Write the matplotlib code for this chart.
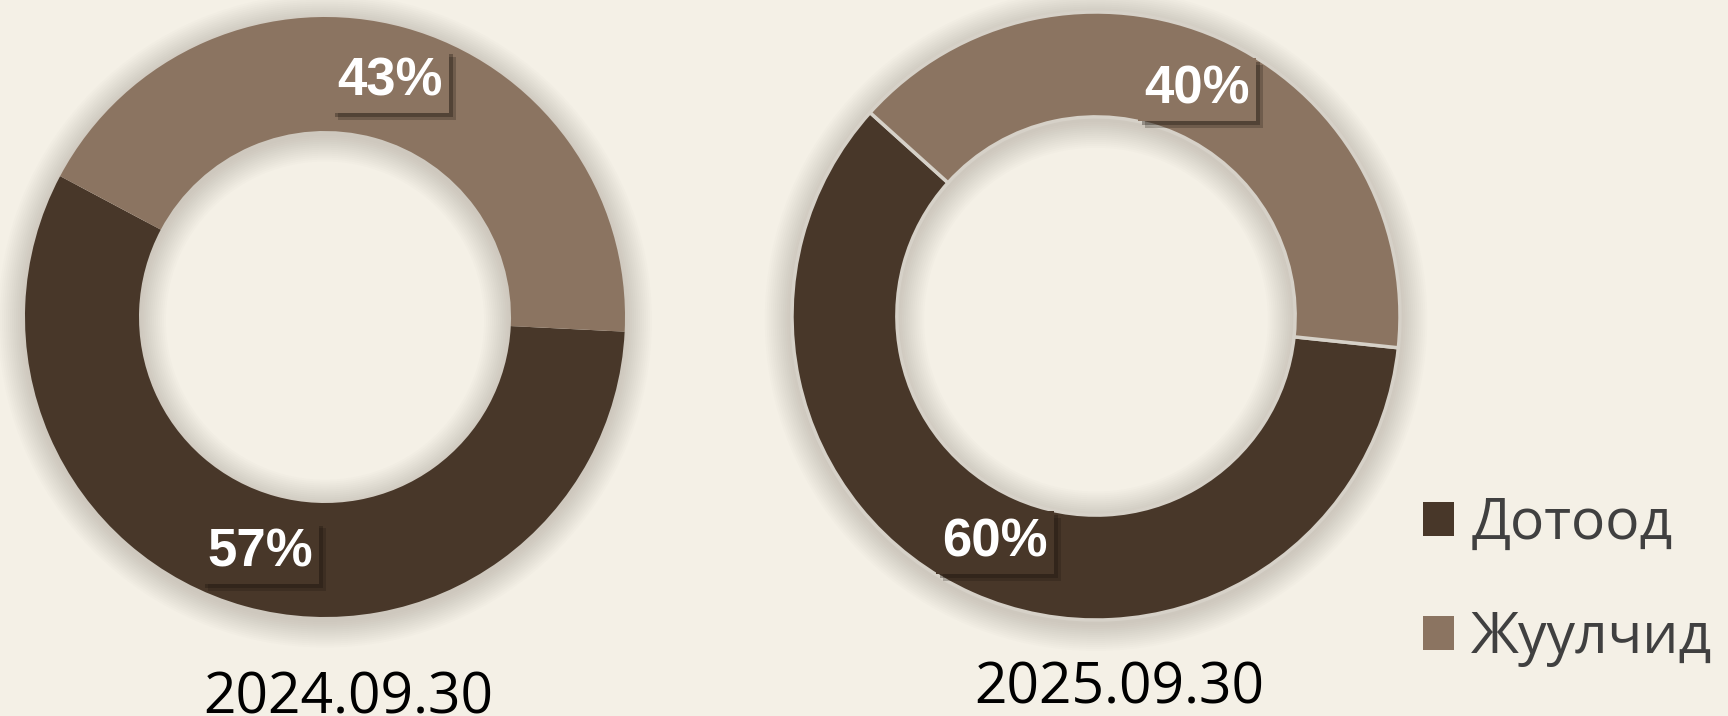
import matplotlib.pyplot as plt
import matplotlib.patheffects as pe
from matplotlib.patches import Wedge, Patch
import numpy as np

# data
labels = ['Дотоод', 'Жуулчид']
dates = ['2024.09.30', '2025.09.30']
shares_2024 = [57, 43]
shares_2025 = [60, 40]

colors = ['#483729', '#8b7461']
bg = '#f4f0e6'

fig = plt.figure(figsize=(17.28, 7.16), dpi=100, facecolor=bg)
W, H = 1728, 716
lim = 1.2


def donut_axes(cx, cy, r):
    # cx, cy, r in pixels from top-left of the figure
    s = r * lim
    return fig.add_axes([(cx - s) / W, (H - cy - s) / H, 2 * s / W, 2 * s / H])


def glow(ax, r_in, n=14, spread=0.09, alpha=0.012):
    # soft shadow outside the ring and inside the hole
    for w in np.linspace(spread, 0.004, n):
        ax.add_patch(Wedge((0, -0.012), 1 + w, 0, 360, width=w + 0.06,
                           color='#2e2418', alpha=alpha, lw=0, zorder=0))
        ax.add_patch(Wedge((0, -0.012), r_in + 0.06, 0, 360, width=w + 0.06,
                           color='#2e2418', alpha=alpha, lw=0, zorder=0))


def donut(ax, values, start, hole, edge):
    glow(ax, hole)
    wedges, _, pcts = ax.pie(
        values, colors=colors, startangle=start, counterclock=True,
        radius=1, autopct=lambda p: f'{round(p)}%', pctdistance=0.815,
        wedgeprops=dict(width=1 - hole, edgecolor=edge,
                        linewidth=2.5 if edge != 'none' else 0),
        textprops=dict(color='white', fontsize=38, fontweight='bold',
                       family='Liberation Sans'))
    for t, c in zip(pcts, colors):
        t.set_bbox(dict(boxstyle='square,pad=0.12', facecolor=c, edgecolor='none'))
        t.get_bbox_patch().set_path_effects(
            [pe.SimplePatchShadow(offset=(5, -5), shadow_rgbFace='#1e160e', alpha=0.25),
             pe.SimplePatchShadow(offset=(3, -3), shadow_rgbFace='#1e160e', alpha=0.35),
             pe.Normal()])
    ax.set_xlim(-lim, lim)
    ax.set_ylim(-lim, lim)
    ax.set_aspect('equal')
    ax.axis('off')
    return wedges


ax1 = donut_axes(325, 317, 300)
w1 = donut(ax1, shares_2024, 152, 0.62, 'none')

ax2 = donut_axes(1096, 316, 304)
w2 = donut(ax2, shares_2025, 138, 0.655, '#d6d1c8')

fig.text(348.5 / W, 1 - 714 / H, dates[0], ha='center', va='baseline',
         fontsize=41, family='Open Sans', color='black')
fig.text(1119 / W, 1 - 703 / H, dates[1], ha='center', va='baseline',
         fontsize=41, family='Open Sans', color='black')

handles = [Patch(facecolor=c, edgecolor='none') for c in colors]
fig.legend(handles, labels, loc='upper left',
           bbox_to_anchor=(1423 / W, 1 - 496 / H), frameon=False,
           prop=dict(family='Open Sans', size=41), labelcolor='#404040',
           handlelength=0.55, handleheight=0.55, handletextpad=0.3,
           labelspacing=1.0, borderaxespad=0, borderpad=0)

fig.savefig('out.png', dpi=100, facecolor=bg)
